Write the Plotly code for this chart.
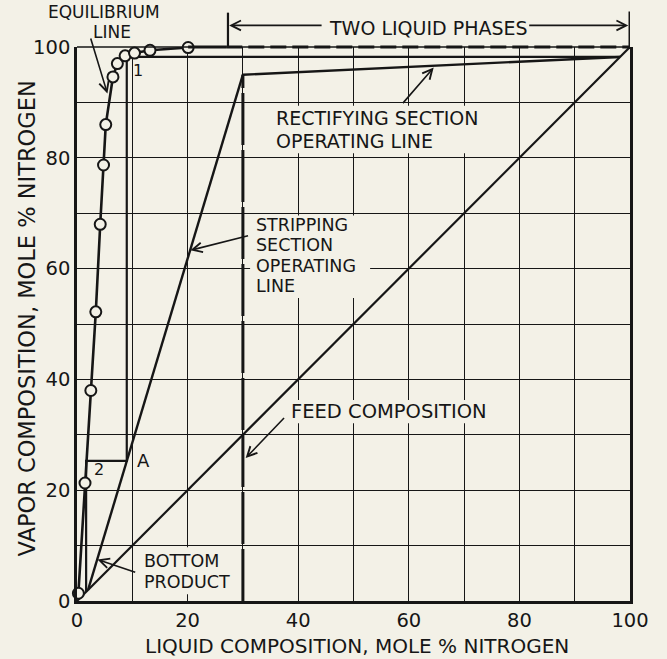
import plotly.graph_objects as go

# ---------------- data (mole % nitrogen) ----------------
# equilibrium curve (liquid x, vapour y)
eq_x = [0.25, 1.45, 2.5, 3.4, 4.2, 4.8, 5.2, 6.5, 7.3, 8.7, 10.4, 13.2, 20.1]
eq_y = [1.4, 21.3, 38.0, 52.2, 68.0, 78.7, 86.0, 94.6, 97.0, 98.4, 98.9, 99.4, 99.9]
# y = x diagonal
diag_x = [0, 100]
diag_y = [0, 100]
# stripping section operating line (bottom product -> feed intersection)
strip_x = [2.0, 30.0]
strip_y = [2.0, 95.0]
# rectifying section operating line (feed intersection -> distillate)
rect_x = [30.0, 98.2]
rect_y = [95.0, 98.2]
# feed composition (vertical q-line)
feed_x = [30.0, 30.0]
feed_y = [0.0, 95.0]
# McCabe-Thiele steps
step_x = [98.2, 9.0, 9.0, 1.65, 1.65]
step_y = [98.2, 98.2, 25.3, 25.3, 1.65]
# two-liquid-phase region at y = 100
eq_tail_x = [20.1, 27.0]
two_phase_x = [27.3, 100.0]
top_y = 100.0

x_tick_vals = [0, 10, 20, 30, 40, 50, 60, 70, 80, 90, 100]
x_tick_text = ["0", "", "20", "", "40", "", "60", "", "80", "", "100"]
y_tick_vals = [0, 10, 20, 30, 40, 50, 60, 70, 80, 90, 100]
y_tick_text = ["0", "", "20", "", "40", "", "60", "", "80", "", "100"]

X_RANGE = [0, 100]
Y_RANGE = [0, 100]

BG = "#f3f1e7"
INK = "#161616"
FONT = "DejaVu Sans"


def fy(v):
    return (v - Y_RANGE[0]) / (Y_RANGE[1] - Y_RANGE[0])


fig = go.Figure()

line_style = dict(color=INK, width=2.4)
fig.add_trace(go.Scatter(x=diag_x, y=diag_y, mode="lines", line=dict(color=INK, width=2.2)))
fig.add_trace(go.Scatter(x=strip_x, y=strip_y, mode="lines", line=line_style))
fig.add_trace(go.Scatter(x=rect_x, y=rect_y, mode="lines", line=line_style))
fig.add_trace(go.Scatter(x=feed_x, y=feed_y, mode="lines",
                         line=dict(color=INK, width=3, dash="52px,5px")))
fig.add_trace(go.Scatter(x=step_x, y=step_y, mode="lines", line=dict(color=INK, width=2.2)))
fig.add_trace(go.Scatter(x=eq_x, y=eq_y, mode="lines", line=dict(color=INK, width=2.6)))
fig.add_trace(go.Scatter(x=eq_x, y=eq_y, mode="markers", cliponaxis=False,
                         marker=dict(symbol="circle", size=11, color=BG,
                                     line=dict(color=INK, width=2))))


def top_line(x0, x1, y0, y1, width, dash=None):
    ln = dict(color=INK, width=width)
    if dash:
        ln["dash"] = dash
    return dict(type="line", xref="x", yref="y domain", x0=x0, x1=x1,
                y0=fy(y0), y1=fy(y1), line=ln)


def blank(x0, x1, y0, y1):
    # paper-coloured patch that interrupts the grid behind lettering
    return dict(type="rect", xref="x", yref="y", x0=x0, x1=x1, y0=y0, y1=y1,
                fillcolor=BG, line=dict(width=0), layer="between")


shapes = [
    top_line(0, 100, top_y, top_y, 1.3),
    top_line(eq_tail_x[0], eq_tail_x[1], top_y, top_y, 3.2),
    top_line(eq_tail_x[1], two_phase_x[1], top_y, top_y, 3.2, "16px,6px"),
    top_line(two_phase_x[0], two_phase_x[0], top_y, 106.2, 2.2),
    top_line(two_phase_x[1], two_phase_x[1], top_y, 106.4, 3),
    blank(35.0, 77.0, 80.8, 89.4),
    blank(31.3, 53.0, 54.7, 69.6),
    blank(37.6, 75.0, 32.1, 36.3),
    blank(11.0, 29.4, 1.2, 9.7),
]

ann = []


def label(text, x, y, xanchor="left", size=17.5, yref="y"):
    yy = fy(y) if yref == "y domain" else y
    return dict(text=text, x=x, y=yy, xref="x", yref=yref, showarrow=False,
                xanchor=xanchor, yanchor="middle",
                font=dict(size=size, color=INK, family=FONT))


def arrow(xh, yh, xt, yt, yref="y"):
    if yref == "y domain":
        yh, yt = fy(yh), fy(yt)
    return dict(x=xh, y=yh, ax=xt, ay=yt, xref="x", yref=yref, axref="x", ayref=yref,
                text="", showarrow=True, arrowhead=5, arrowsize=1.2, arrowwidth=1.6,
                arrowcolor=INK)


ann += [
    label("EQUILIBRIUM", 4.9, 106.3, "center", size=17, yref="y domain"),
    label("LINE", 6.3, 102.65, "center", size=17, yref="y domain"),
    arrow(5.5, 91.6, 2.4, 101.8),
    label("1", 11.0, 95.8, "center", size=16),
    label("2", 3.9, 23.7, "center", size=16),
    label("A", 12.0, 25.3, "center", size=18),
    label("TWO LIQUID PHASES", 63.5, 103.4, "center", size=19, yref="y domain"),
    arrow(two_phase_x[0] + 0.2, 103.9, 44.5, 103.9, yref="y domain"),
    arrow(two_phase_x[1] - 0.3, 103.9, 81.5, 103.9, yref="y domain"),
    label("RECTIFYING SECTION", 35.6, 87.1, size=19),
    label("OPERATING LINE", 35.6, 83.1, size=19),
    arrow(64.5, 96.3, 58.7, 89.6),
    label("STRIPPING", 32.0, 67.9),
    label("SECTION", 32.0, 64.2),
    label("OPERATING", 32.0, 60.5),
    label("LINE", 32.0, 56.8),
    arrow(20.5, 63.3, 31.2, 66.0),
    label("FEED COMPOSITION", 38.3, 34.2, size=19.5),
    arrow(30.5, 25.8, 37.7, 33.3),
    label("BOTTOM", 11.7, 7.2),
    label("PRODUCT", 11.7, 3.5),
    arrow(3.7, 7.5, 10.8, 5.1),
    # axis titles
    dict(text="LIQUID COMPOSITION, MOLE % NITROGEN", xref="paper", yref="paper",
         x=0.506, y=0, yshift=-45, xanchor="center", yanchor="middle", showarrow=False,
         font=dict(size=20, color=INK, family=FONT)),
    dict(text="VAPOR COMPOSITION, MOLE % NITROGEN", xref="paper", yref="paper",
         x=0, xshift=-50, y=0.51, xanchor="center", yanchor="middle", textangle=-90,
         showarrow=False, font=dict(size=22.5, color=INK, family=FONT)),
]

axis_common = dict(showgrid=True, gridcolor=INK, gridwidth=1.3,
                   zeroline=False, showline=True, linecolor=INK, linewidth=2.6,
                   ticks="", tickfont=dict(size=19.5, color=INK, family=FONT))

fig.update_layout(
    width=667, height=659,
    margin=dict(l=77, r=37, t=47, b=58),
    paper_bgcolor=BG, plot_bgcolor=BG,
    showlegend=False,
    hovermode=False,
    shapes=shapes,
    annotations=ann,
    xaxis=dict(axis_common, range=X_RANGE, tickmode="array", tickvals=x_tick_vals,
               ticktext=x_tick_text, mirror=False),
    yaxis=dict(axis_common, range=Y_RANGE, tickmode="array", tickvals=y_tick_vals,
               ticktext=y_tick_text, mirror=True),
)

fig.write_html("out.html",
               config={"displayModeBar": False},
               post_script="document.body.style.margin='0px';"
                           "document.documentElement.style.overflow='hidden';")
